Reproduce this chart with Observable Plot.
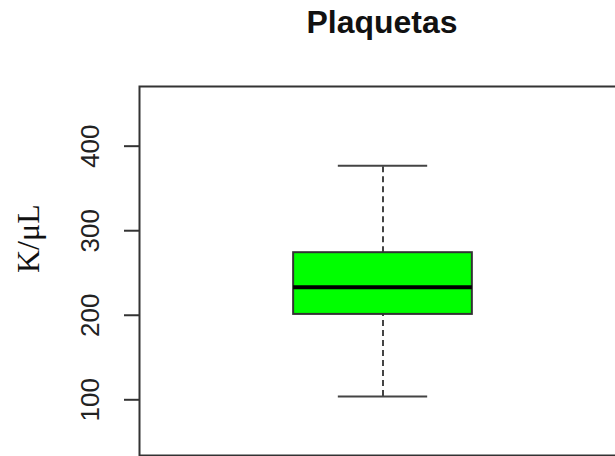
<!DOCTYPE html>
<html>
<head>
<meta charset="utf-8">
<script src="https://cdn.jsdelivr.net/npm/d3@7"></script>
<script src="https://cdn.jsdelivr.net/npm/@observablehq/plot@0.6"></script>
<style>
  html, body { margin: 0; padding: 0; background: #fff; overflow: hidden; }
  #wrap { position: relative; width: 615px; height: 456px; }
  #title { position: relative; height: 60px; width: 615px; }
  #title span {
    position: absolute; left: 382px; top: 7px; line-height: 31px;
    transform: translateX(-50%) scaleX(1.03);
    font-family: "Liberation Sans", Arial, sans-serif; font-weight: bold;
    font-size: 31px; color: #111; white-space: nowrap;
  }
</style>
</head>
<body>
<div id="wrap">
  <div id="title"><span>Plaquetas</span></div>
  <div id="chart"></div>
</div>
<script>
// Five-number summary of platelet counts (K/µL)
const categories = ["Plaquetas"];
const positions = [1];
const whiskerLow = [104];
const q1 = [201];
const medians = [233];
const q3 = [274];
const whiskerHigh = [377];
const yTicks = [100, 200, 300, 400];
const yLabel = "K/μL";

const boxes = categories.map((name, i) => ({
  name,
  x: positions[i],
  lo: whiskerLow[i],
  q1: q1[i],
  med: medians[i],
  q3: q3[i],
  hi: whiskerHigh[i]
}));

const boxHalf = 0.4;    // box half-width (boxwex 0.8)
const capHalf = 0.2;    // staple half-width
const ink = "#333";
const sans = "Liberation Sans, Arial, sans-serif";
const serif = "Liberation Serif, Times New Roman, serif";

const chart = Plot.plot({
  width: 615,
  height: 396,
  marginTop: 26,
  marginBottom: 1,
  marginLeft: 139,
  marginRight: -11,
  x: { type: "linear", domain: [-0.09, 2.09], axis: null },
  y: { domain: [34.1, 470.6], ticks: yTicks, axis: null },
  style: { background: "transparent", overflow: "hidden" },
  marks: [
    Plot.frame({ stroke: ink, strokeWidth: 2 }),
    // tick marks
    Plot.axisY({
      ticks: yTicks,
      tickSize: 15,
      tickFormat: () => "",
      stroke: ink,
      strokeWidth: 2,
      label: null
    }),
    // rotated tick labels
    Plot.axisY({
      ticks: yTicks,
      tickSize: 0,
      tickPadding: 48.5,
      rotate: -90,
      textAnchor: "middle",
      fontSize: 26,
      fontFamily: sans,
      fill: "#222",
      label: null
    }),
    Plot.text([yLabel], {
      frameAnchor: "left",
      dx: -111,
      dy: 2,
      rotate: -90,
      text: d => d,
      fontSize: 32,
      fontFamily: serif,
      fill: "#111"
    }),
    // dashed whiskers
    Plot.ruleX(boxes, { x: "x", y1: "q3", y2: "hi", stroke: "#444", strokeWidth: 2, strokeDasharray: "6,4" }),
    Plot.ruleX(boxes, { x: "x", y1: "lo", y2: "q1", stroke: "#444", strokeWidth: 2, strokeDasharray: "6,4" }),
    // staples
    Plot.ruleY(boxes, { y: "hi", x1: d => d.x - capHalf, x2: d => d.x + capHalf, stroke: "#444", strokeWidth: 2 }),
    Plot.ruleY(boxes, { y: "lo", x1: d => d.x - capHalf, x2: d => d.x + capHalf, stroke: "#444", strokeWidth: 2 }),
    // box
    Plot.rect(boxes, {
      x1: d => d.x - boxHalf, x2: d => d.x + boxHalf,
      y1: "q1", y2: "q3",
      fill: "#00ff00", stroke: ink, strokeWidth: 2
    }),
    // median
    Plot.ruleY(boxes, { y: "med", x1: d => d.x - boxHalf, x2: d => d.x + boxHalf, stroke: "#000", strokeWidth: 4 })
  ]
});

document.getElementById("chart").appendChild(chart);
</script>
</body>
</html>
